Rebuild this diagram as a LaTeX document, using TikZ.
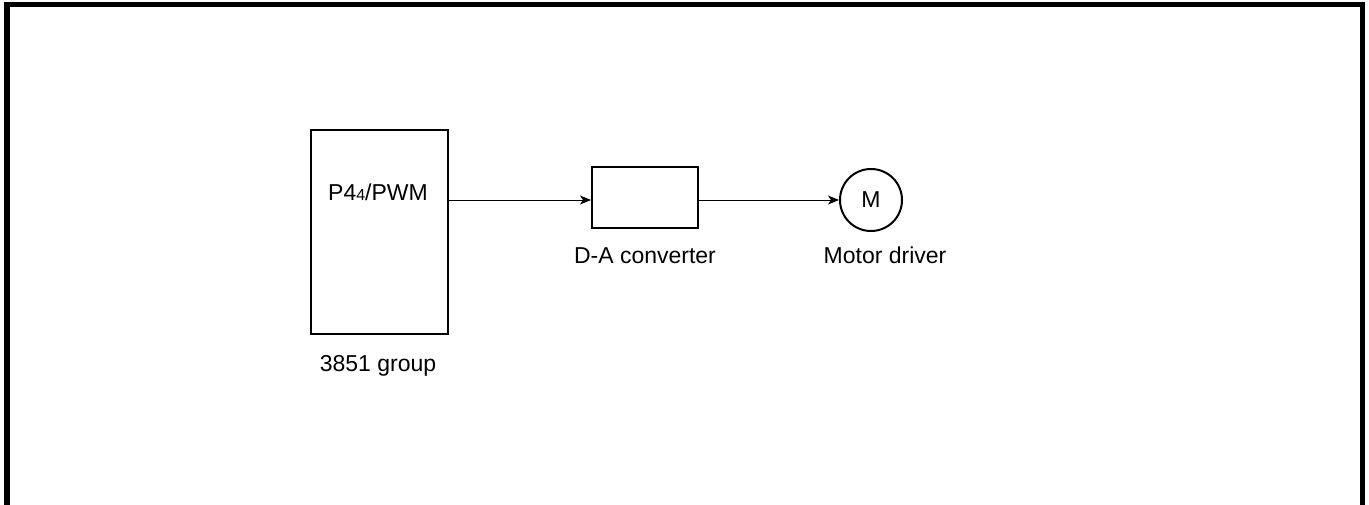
\documentclass[tikz,border=0pt]{standalone}
\usepackage{fontspec}
\setmainfont{Liberation Sans}
\usetikzlibrary{arrows.meta}
\begin{document}
\begin{tikzpicture}[x=1pt,y=-1pt,
  blk/.style={draw,line width=2pt,inner sep=0pt},
  lbl/.style={font=\fontsize{23}{26}\selectfont,inner sep=0pt},
  conn/.style={line width=1pt,-{Stealth[length=11pt,width=9pt,inset=3pt]}}]
\useasboundingbox (0,0) rectangle (1369,504);
\clip (0,0) rectangle (1369,504);
\draw[line width=5.5pt] (7,4.5) rectangle (1362.5,520);
\node[blk,minimum width=137pt,minimum height=204pt] (mcu) at (379.5,232) {};
\node[lbl,anchor=base] (pwm) at (378,200) {P4{\fontsize{16}{16}\selectfont 4}/PWM};
\node[lbl,anchor=base] (grp) at (378,371) {3851 group};
\node[blk,minimum width=106pt,minimum height=61pt] (dac) at (645,197.5) {};
\node[lbl,anchor=base] (dacl) at (645,263) {D-A converter};
\node[circle,draw,line width=2pt,minimum size=62pt,inner sep=0pt,font=\fontsize{23}{26}\selectfont] (mot) at (871,200) {M};
\node[lbl,anchor=base] (motl) at (885,263) {Motor driver};
\coordinate (s1) at (mcu.east |- 0,200);
\coordinate (e1) at (dac.west |- 0,200);
\draw[conn] (s1) -- (e1);
\coordinate (s2) at (dac.east |- 0,200);
\draw[conn] (s2) -- (mot.west);
\end{tikzpicture}
\end{document}
